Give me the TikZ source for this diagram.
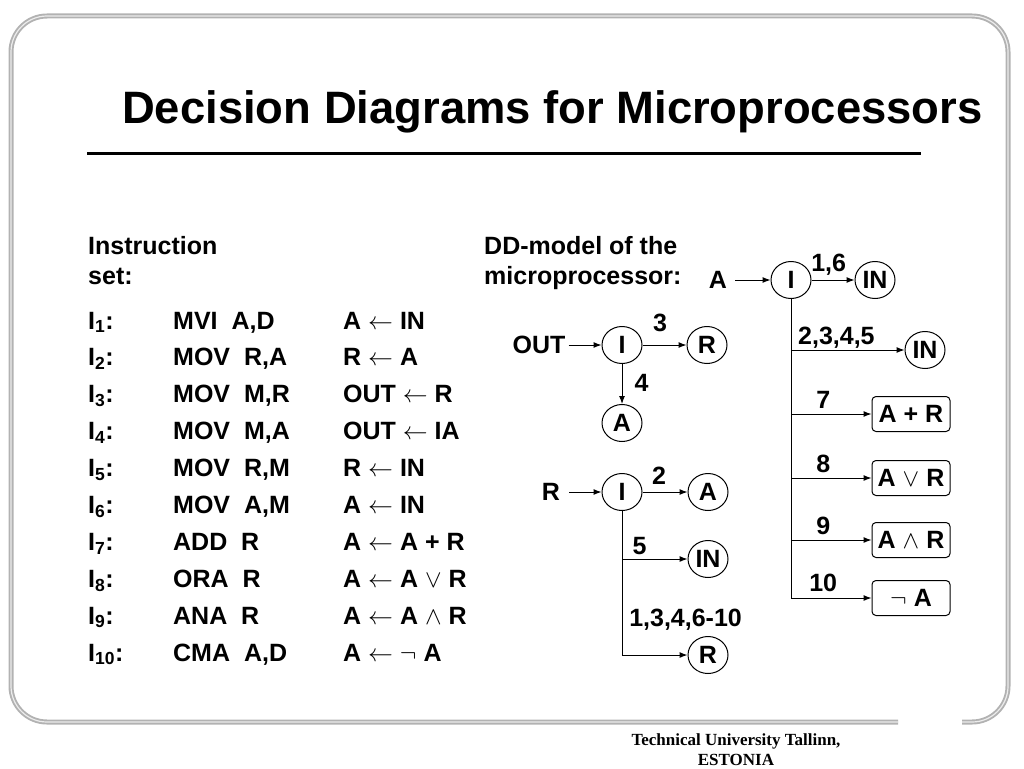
\documentclass[tikz,border=0pt]{standalone}
\usepackage{fontspec}
\setmainfont{Liberation Sans}
\newfontfamily\footfont{Liberation Serif}
\usetikzlibrary{arrows.meta,shapes.geometric}

\tikzset{
  ddnode/.style={ellipse, draw, line width=1pt, minimum width=40pt, minimum height=37pt, inner sep=0pt},
  ddbox/.style={draw, rounded corners=4pt, line width=1pt, minimum width=78pt, minimum height=35pt, inner sep=0pt},
  ddin/.style={inner sep=3pt},
  ddarc/.style={line width=1pt, -{Latex[length=8pt,width=6pt]}},
  ddtrunk/.style={line width=1pt},
  ddlab/.style={anchor=base, inner sep=0pt},
  frameout/.style={line width=5pt, draw=gray!60, rounded corners=36pt},
  framein/.style={line width=1.2pt, draw=gray!15, rounded corners=36pt},
}

\begin{document}
\begin{tikzpicture}[x=1pt, y=-1pt, font=\fontsize{25}{30}\selectfont\bfseries]
  \useasboundingbox (0,0) rectangle (1024,768);

  \draw[frameout] (898,722) -- (11,722) -- (11,16) -- (1008,16) -- (1008,722) -- (962,722);
  \draw[framein] (898,722) -- (11,722) -- (11,16) -- (1008,16) -- (1008,722) -- (962,722);

  \node[anchor=base west, inner sep=0pt, font=\fontsize{45.4}{50}\selectfont\bfseries] (title) at (122,123) {Decision Diagrams for Microprocessors};
  \draw[line width=3pt] (87,153) -- (921,153);

  \node[anchor=base west, inner sep=0pt] (isethead) at (88,254) {\begin{tabular}[t]{@{}l@{}}Instruction\\set:\end{tabular}};
  \node[anchor=base west, inner sep=0pt] (iset) at (88,329) {\fontsize{25}{36.9}\selectfont
    \begin{tabular}[t]{@{}p{85pt}@{}p{170pt}@{}l@{}}
      I\textsubscript{1}: & MVI\ \ A,D & A $\leftarrow$ IN\\
      I\textsubscript{2}: & MOV\ \ R,A & R $\leftarrow$ A\\
      I\textsubscript{3}: & MOV\ \ M,R & OUT $\leftarrow$ R\\
      I\textsubscript{4}: & MOV\ \ M,A & OUT $\leftarrow$ IA\\
      I\textsubscript{5}: & MOV\ \ R,M & R $\leftarrow$ IN\\
      I\textsubscript{6}: & MOV\ \ A,M & A $\leftarrow$ IN\\
      I\textsubscript{7}: & ADD\ \ R & A $\leftarrow$ A + R\\
      I\textsubscript{8}: & ORA\ \ R & A $\leftarrow$ A $\vee$ R\\
      I\textsubscript{9}: & ANA\ \ R & A $\leftarrow$ A $\wedge$ R\\
      I\textsubscript{10}: & CMA\ \ A,D & A $\leftarrow\neg$ A
    \end{tabular}};

  \node[anchor=base west, inner sep=0pt] (ddhead) at (484,254) {\begin{tabular}[t]{@{}l@{}}DD-model of the\\microprocessor:\end{tabular}};

  % A
  \node[ddin] (aA) at (718,280) {A};
  \node[ddnode] (aI) at (791,280) {I};
  \node[ddnode] (aIN1) at (875,280) {IN};
  \node[ddnode] (aIN2) at (925,350) {IN};
  \node[ddbox] (aAdd) at (911,414) {A + R};
  \node[ddbox] (aOr) at (911,478) {A $\vee$ R};
  \node[ddbox] (aAnd) at (911,540) {A $\wedge$ R};
  \node[ddbox] (aNot) at (911,598) {$\neg$ A};
  \draw[ddarc, shorten <=5pt] (aA) -- (aI);
  \draw[ddarc] (aI) -- node[ddlab, pos=0.4, yshift=9pt] {1,6} (aIN1);
  \draw[ddtrunk] (aI) -- (aI |- aNot);
  \draw[ddarc] (aI |- aIN2) -- node[ddlab, pos=0.4, yshift=6pt] {2,3,4,5} (aIN2);
  \draw[ddarc] (aI |- aAdd) -- node[ddlab, pos=0.4, yshift=6pt] {7} (aAdd);
  \draw[ddarc] (aI |- aOr) -- node[ddlab, pos=0.4, yshift=6pt] {8} (aOr);
  \draw[ddarc] (aI |- aAnd) -- node[ddlab, pos=0.4, yshift=6pt] {9} (aAnd);
  \draw[ddarc] (aI |- aNot) -- node[ddlab, pos=0.4, yshift=7pt] {10} (aNot);

  % OUT
  \node[ddin] (bOUT) at (539,345) {OUT};
  \node[ddnode] (bI) at (622,345) {I};
  \node[ddnode] (bR) at (707,345) {R};
  \node[ddnode] (bA) at (622,423) {A};
  \draw[ddarc] (bOUT) -- (bI);
  \draw[ddarc] (bI) -- node[ddlab, pos=0.4, yshift=14pt] {3} (bR);
  \draw[ddarc] (bI) -- node[anchor=west, inner sep=0pt, pos=0.48, xshift=12pt] {4} (bA);

  % R
  \node[ddin] (cR) at (551,492) {R};
  \node[ddnode] (cI) at (622,492) {I};
  \node[ddnode] (cA) at (708,492) {A};
  \node[ddnode] (cIN) at (708,559) {IN};
  \node[ddnode] (cR2) at (708,655) {R};
  \draw[ddarc, shorten <=6pt] (cR) -- (cI);
  \draw[ddarc] (cI) -- node[ddlab, pos=0.37, yshift=8pt] {2} (cA);
  \draw[ddtrunk] (cI) -- (cI |- cR2);
  \draw[ddarc] (cI |- cIN) -- node[ddlab, pos=0.27, yshift=5pt] {5} (cIN);
  \draw[ddarc] (cI |- cR2) -- node[ddlab, pos=0.97, yshift=29pt] {1,3,4,6-10} (cR2);

  \node[anchor=base, inner sep=0pt, font=\footfont\fontsize{17}{20}\selectfont\bfseries] (foot) at (736,745) {\begin{tabular}[t]{@{}c@{}}Technical University Tallinn,\\ESTONIA\end{tabular}};
\end{tikzpicture}
\end{document}
